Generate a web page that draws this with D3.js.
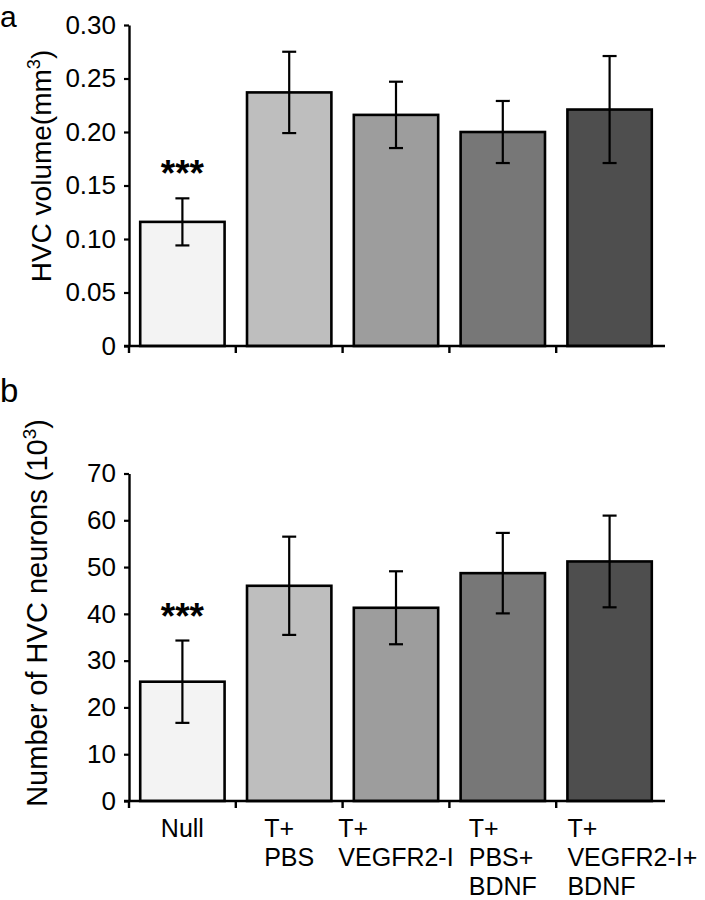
<!DOCTYPE html>
<html>
<head>
<meta charset="utf-8">
<script src="https://cdn.jsdelivr.net/npm/d3@7/dist/d3.min.js"></script>
<style>
  html, body { margin: 0; padding: 0; background: #fff; }
  svg { display: block; font-family: "Liberation Sans", Arial, Helvetica, sans-serif; }
</style>
</head>
<body>
<svg id="chart" width="705" height="900"></svg>
<script>
// ---- data ----
const categories = ["Null", "T+ PBS", "T+ VEGFR2-I", "T+ PBS+ BDNF", "T+ VEGFR2-I+ BDNF"];
const categoryLines = [["Null"], ["T+", "PBS"], ["T+", "VEGFR2-I"], ["T+", "PBS+", "BDNF"], ["T+", "VEGFR2-I+", "BDNF"]];
const labelAlign = ["center", "center", "center", "center", "bar-left"];
const barColors = ["#f3f3f3", "#bebebe", "#9d9d9d", "#777777", "#4e4e4e"];

const volumeMean = [0.116, 0.237, 0.216, 0.200, 0.221];
const volumeErr  = [0.022, 0.038, 0.031, 0.029, 0.050];
const volumeTicks = [0, 0.05, 0.10, 0.15, 0.20, 0.25, 0.30];
const volumeTickLabels = ["0", "0.05", "0.10", "0.15", "0.20", "0.25", "0.30"];

const neuronMean = [25.5, 46.0, 41.3, 48.7, 51.2];
const neuronErr  = [8.8, 10.5, 7.8, 8.6, 9.8];
const neuronTicks = [0, 10, 20, 30, 40, 50, 60, 70];
const neuronTickLabels = ["0", "10", "20", "30", "40", "50", "60", "70"];

const significance = ["***", "", "", "", ""];

// ---- drawing ----
const svg = d3.select("#chart");
const x = d3.scaleBand().domain(categories).range([129, 663]).paddingInner(0.21).paddingOuter(0.105);

function panel(opts) {
  const g = svg.append("g");
  const y = d3.scaleLinear().domain(opts.domain).range(opts.range);
  const step = x.step();
  const x0 = x.range()[0];

  // bars
  g.selectAll("rect.bar").data(categories).enter().append("rect")
    .attr("x", d => x(d))
    .attr("y", (d, i) => y(opts.mean[i]))
    .attr("width", x.bandwidth())
    .attr("height", (d, i) => y(0) - y(opts.mean[i]))
    .attr("fill", (d, i) => barColors[i])
    .attr("stroke", "#000")
    .attr("stroke-width", 2.6);

  // error bars
  const eb = g.selectAll("g.err").data(categories).enter().append("g")
    .attr("stroke", "#000").attr("stroke-width", 2.2);
  eb.append("line")
    .attr("x1", d => x(d) + x.bandwidth() / 2).attr("x2", d => x(d) + x.bandwidth() / 2)
    .attr("y1", (d, i) => y(opts.mean[i] + opts.err[i]))
    .attr("y2", (d, i) => y(opts.mean[i] - opts.err[i]));
  [1, -1].forEach(s => {
    eb.append("line")
      .attr("x1", d => x(d) + x.bandwidth() / 2 - 7).attr("x2", d => x(d) + x.bandwidth() / 2 + 7)
      .attr("y1", (d, i) => y(opts.mean[i] + s * opts.err[i]))
      .attr("y2", (d, i) => y(opts.mean[i] + s * opts.err[i]));
  });

  // significance
  g.selectAll("text.sig").data(categories).enter().append("text")
    .attr("x", d => x(d) + x.bandwidth() / 2)
    .attr("y", (d, i) => y(opts.mean[i] + opts.err[i]) - 12)
    .attr("text-anchor", "middle")
    .attr("font-size", 37).attr("font-weight", "bold")
    .text((d, i) => significance[i]);

  // y axis
  const yAxis = d3.axisLeft(y).tickValues(opts.ticks)
    .tickFormat((d, i) => opts.tickLabels[i]).tickSize(5).tickPadding(8).tickSizeOuter(0);
  const ya = g.append("g").attr("transform", `translate(${x0},0)`).call(yAxis);
  ya.select(".domain").attr("stroke", "#000").attr("stroke-width", 2.4);
  ya.selectAll(".tick line").attr("stroke", "#000").attr("stroke-width", 2.2);
  ya.selectAll(".tick text").attr("font-size", 26).attr("fill", "#000")
    .attr("font-family", "'Liberation Sans', Arial, sans-serif");

  // x axis line and boundary ticks
  g.append("line").attr("x1", x0 - 5).attr("x2", x.range()[1] + 2)
    .attr("y1", y(0)).attr("y2", y(0)).attr("stroke", "#000").attr("stroke-width", 2.6);
  g.selectAll("line.xt").data(categories).enter().append("line")
    .attr("x1", (d, i) => x0 + i * step).attr("x2", (d, i) => x0 + i * step)
    .attr("y1", y(0)).attr("y2", y(0) + 7)
    .attr("stroke", "#000").attr("stroke-width", 2.4);

  // y title
  const t = g.append("text")
    .attr("transform", `translate(${opts.titleX},${opts.titleY}) rotate(-90)`)
    .attr("text-anchor", "middle").attr("font-size", opts.titleSize);
  t.append("tspan").text(opts.title[0]);
  t.append("tspan").attr("font-size", opts.titleSize * 0.65).attr("dy", -opts.titleSize * 0.38).text(opts.title[1]);
  t.append("tspan").attr("dy", opts.titleSize * 0.38).text(opts.title[2]);

  // panel letter
  g.append("text").attr("x", 0).attr("y", opts.letterY).attr("font-size", opts.letterSize).text(opts.letter);
  return { g, y };
}

panel({
  domain: [0, 0.3], range: [346, 25],
  mean: volumeMean, err: volumeErr, ticks: volumeTicks, tickLabels: volumeTickLabels,
  title: ["HVC volume(mm", "3", ")"], titleX: 51, titleY: 166, titleSize: 28,
  letter: "a", letterY: 27, letterSize: 30
});

const bottom = panel({
  domain: [0, 70], range: [801, 473.5],
  mean: neuronMean, err: neuronErr, ticks: neuronTicks, tickLabels: neuronTickLabels,
  title: ["Number of HVC neurons (10", "3", ")"], titleX: 47, titleY: 613, titleSize: 29,
  letter: "b", letterY: 402, letterSize: 33
});

// category labels (multi-line, left aligned block)
const labelSize = 25;
const yBase = bottom.y(0) + 36;
categories.forEach((c, i) => {
  const txt = svg.append("text").attr("font-size", labelSize).attr("y", yBase);
  categoryLines[i].forEach((line, k) => {
    txt.append("tspan").attr("x", 0).attr("dy", k === 0 ? 0 : 29).text(line);
  });
  const w = txt.node().getBBox().width;
  const cx = x(c) + x.bandwidth() / 2;
  const left = labelAlign[i] === "bar-left" ? x(c) : Math.min(cx - w / 2, 702 - w);
  txt.selectAll("tspan").attr("x", left);
});
</script>
</body>
</html>
